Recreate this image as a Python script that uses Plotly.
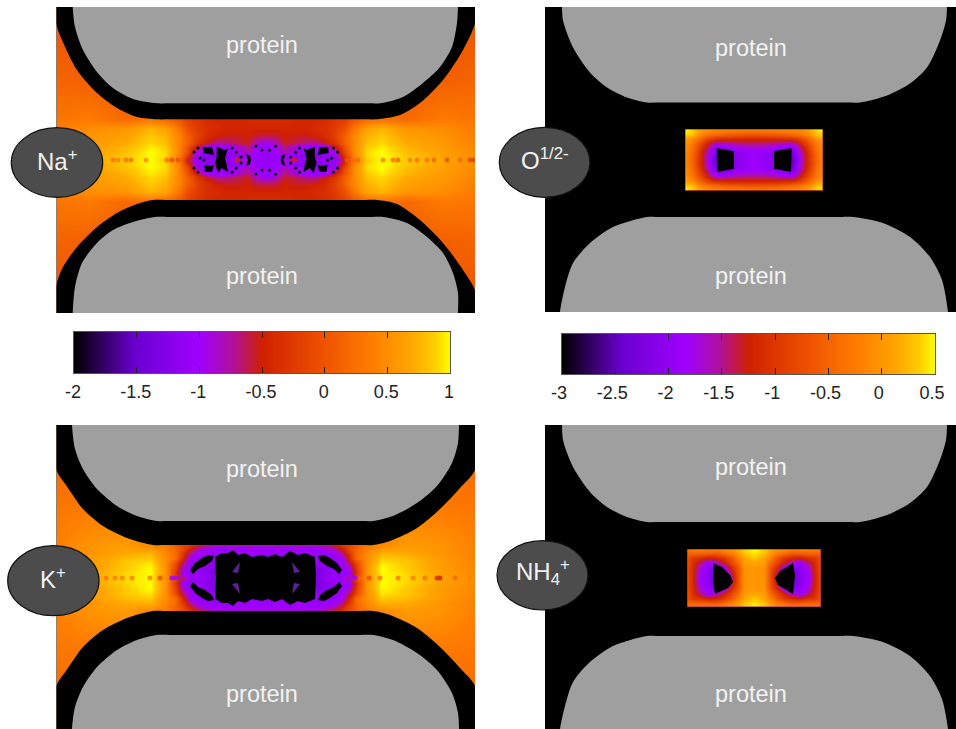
import plotly.graph_objects as go

W, H = 956, 729
CMAP = [[0, '#000000'], [.16, '#6a00d0'], [.33, '#a000ff'], [.42, '#b010a0'], [.5, '#d02000'],
        [.67, '#ef5500'], [.8, '#ff8000'], [.9, '#ffa800'], [.96, '#ffd000'], [1, '#ffff00']]
GRAY = '#9f9f9f'

# colour bar ticks
TICKS_A = [-2, -1.5, -1, -0.5, 0, 0.5, 1]
TICKS_B = [-3, -2.5, -2, -1.5, -1, -0.5, 0, 0.5]

# ---------- Na+ : one quadrant of the density map ----------
NA_X = [56, 90, 125, 150, 165, 178, 187, 197, 207, 217, 227, 237, 247, 257, 266]
NA_Y = [7, 40, 80, 119, 128, 136, 143, 146, 152, 156, 160]
NA_Z = [
    [.0, .0, .0, .0, .0, .0, .0, .0, .0, .0, .0, .0, .0, .0, .0],
    [.05, .05, .05, .05, .05, .05, .05, .05, .05, .05, .05, .05, .05, .05, .05],
    [.15, .1, .05, .05, .05, .05, .05, .05, .05, .05, .05, .05, .05, .05, .05],
    [.3, .35, .2, .3, .2, .0, -.2, -.3, -.4, -.45, -.45, -.45, -.4, -.4, -.4],
    [.35, .5, .55, .75, .65, .3, -.05, -.25, -.35, -.4, -.45, -.45, -.45, -.45, -.45],
    [.4, .55, .65, .85, .75, .45, .1, -.2, -.4, -.5, -.55, -.55, -.5, -.6, -.6],
    [.4, .6, .7, .9, .8, .45, .1, -.3, -.55, -.75, -.7, -.6, -.55, -.85, -1],
    [.45, .6, .75, .95, .85, .45, 0, -.55, -1.02, -1.05, -1.05, -.85, -.65, -1.05, -1.05],
    [.45, .65, .8, 1, .9, .45, -.1, -1, -1.1, -1.1, -1.1, -1, -.8, -1.05, -1.05],
    [.5, .65, .85, 1, .9, .4, -.3, -1.1, -1.2, -1.2, -1.2, -1.1, -1, -1.05, -1.1],
    [.5, .7, .85, 1, .85, .35, -.5, -1.1, -1.1, -1.2, -1.2, -.8, -.9, -1.1, -1.1],
]
NA_BEAD_X = [113, 118, 126, 131, 146, 167, 172, 178, 237, 294.5, 347, 353, 358, 383, 393, 398, 410, 417, 427, 434, 447, 460, 470, 474]
NA_BEAD_V = [.3, .4, .3, .25, .5, .3, 0, 0, -.5, -.5, 0, .2, .2, .4, .3, .2, .4, .3, .3, .2, 0, .2, -.1, -.2]
NA_BEAD_Y = [160] * len(NA_BEAD_X)
NA_SPECK_X = [194, 198, 194, 198, 232, 236, 232, 236, 256, 262, 256, 262, 241, 241, 200, 204]
NA_SPECK_Y = [152, 148, 168, 172, 148, 152, 172, 168, 146, 150, 174, 170, 157, 163, 158, 160]

# ---------- K+ ----------
K_X = [56, 90, 125, 150, 165, 175, 182, 190, 198, 206, 215, 225, 240, 266]
K_Y = [425, 465, 500, 545, 549, 553, 558, 563, 568, 573, 578]
K_Z = [
    [.2, .2, .2, .2, .2, .2, .2, .2, .2, .2, .2, .2, .2, .2],
    [.2, .25, .25, .25, .25, .25, .25, .25, .25, .25, .25, .25, .25, .25],
    [.3, .3, .3, .3, .3, .3, .3, .3, .3, .3, .3, .3, .3, .3],
    [.4, .55, .6, .45, .35, .1, -.1, -.3, -.55, -.7, -.85, -.85, -.85, -.85],
    [.4, .55, .65, .6, .4, .15, -.1, -.5, -.8, -.95, -1.05, -1.05, -1.05, -1.05],
    [.4, .55, .7, .75, .45, .2, -.25, -.75, -1.05, -1.1, -1.05, -1.05, -1.05, -1.05],
    [.4, .6, .8, .85, .5, .2, -.4, -1, -1.1, -1.1, -1.1, -1.1, -1.1, -1.1],
    [.45, .6, .85, .95, .5, -.1, -.65, -1.05, -1.1, -1.15, -1.15, -1.15, -1.15, -1.15],
    [.45, .6, .85, 1, .55, -.2, -.9, -1.1, -1.1, -1.2, -1.3, -1.25, -1.25, -1.25],
    [.45, .65, .9, 1, .55, -.3, -1.05, -1.1, -1.1, -1.2, -1.35, -1.3, -1.3, -1.3],
    [.5, .65, .9, 1, .5, 0, -.6, -1.1, -1.05, -1.1, -1.35, -1.3, -1.3, -1.3],
]
K_BEAD_X = [106, 115, 122, 132, 150, 160, 172, 176, 180, 347, 351, 355, 369, 380, 398, 413, 425, 437, 440, 455, 470]
K_BEAD_V = [.3, .4, .4, .4, .4, 0, -1, -1, -.8, -.8, -1, -1, 0, .3, .4, .4, .3, -.3, -.4, .2, .4]
K_BEAD_Y = [578] * len(K_BEAD_X)

# ---------- O 1/2- window ----------
O_X = [685, 692, 700, 708, 716, 725, 735, 745, 754]
O_Y = [129, 134, 139, 144, 150, 155, 160]
O_Z = [
    [.5, .4, .1, -.05, -.1, -.15, -.2, -.2, -.2],
    [.4, .3, -.1, -.3, -.4, -.5, -.55, -.6, -.6],
    [.1, -.1, -.5, -.9, -1.1, -1.15, -1.2, -1.2, -1.2],
    [0, -.3, -.8, -1.3, -1.75, -1.7, -1.55, -1.5, -1.5],
    [-.05, -.4, -1, -1.6, -2.2, -2.2, -2, -1.9, -1.85],
    [-.1, -.45, -1.1, -1.7, -2.4, -2.3, -2.1, -1.95, -1.85],
    [-.1, -.5, -1.1, -1.75, -2.5, -2.4, -2.1, -1.95, -1.85],
]

# ---------- NH4+ window ----------
N_X = [687, 693, 700, 708, 716, 724, 732, 738, 744, 754]
N_Y = [549, 553, 558, 563, 568, 573, 578]
N_Z = [
    [-.3, -.2, -.2, -.2, -.2, -.1, 0, .15, .35, .5],
    [-.5, -.5, -.5, -.55, -.6, -.4, -.2, .05, .3, .45],
    [-.7, -1, -1.1, -1.3, -1.2, -1, -.6, -.2, .1, .3],
    [-.7, -1.1, -1.5, -1.9, -1.7, -1.3, -.8, -.45, .05, .1],
    [-.75, -1.15, -1.7, -2, -2.2, -1.9, -1.1, -.65, -.05, 0],
    [-.75, -1.2, -1.8, -2.05, -2.4, -2.1, -1.3, -.7, -.05, 0],
    [-.75, -1.2, -1.85, -2.05, -2.4, -2.2, -1.5, -.7, -.05, 0],
]

# ---------- outlines ----------
NA_TOP_BAND = [(56, 23), (62, 40), (77, 70), (97, 93), (117, 108), (137, 117), (157, 119.3), (170, 119.3), (267, 119.3), (365, 119.3), (377, 119.3), (400, 115),
               (420, 103), (443, 80), (463, 50), (476, 20), (478, -30), (54, -30)]
NA_TOP_PROT = [(72.7, -10), (72.7, 7), (75, 27), (83, 50), (97, 72), (113, 88), (133, 99), (157, 103.3), (170, 103.3), (267, 103.3), (368, 103.3), (380, 103.3), (403, 97),
               (423, 83), (440, 67), (452, 47), (457, 23), (458, 7), (458, -10)]
NA_BOT_BAND = [(56, 287), (63, 267), (77, 247), (97, 227), (117, 213), (137, 204), (153, 200), (166, 200), (267, 200), (365, 200), (377, 200), (397, 204),
               (420, 220), (443, 243), (463, 270), (476, 293), (478, 350), (54, 350)]
NA_BOT_PROT = [(72.7, 330), (72.7, 313), (75, 287), (82, 263), (97, 243), (113, 230), (133, 222), (155, 217), (168, 217), (267, 217), (370, 217), (383, 217), (407, 223),
               (427, 237), (443, 253), (453, 273), (458, 293), (458, 313), (458, 330)]
K_BOT_BAND = [(56, 687), (66.7, 670), (83, 647), (103, 630), (127, 618), (153, 611), (166, 611), (267, 611), (360, 611), (373, 611), (390, 615), (417, 628),
              (440, 647), (460, 668), (476, 688), (478, 770), (54, 770)]
K_BOT_PROT = [(72, 745), (72, 729), (75, 707), (83, 687), (97, 667), (117, 650), (137, 640), (157, 635), (170, 635), (267, 635), (360, 635), (373, 635), (393, 640),
              (417, 653), (437, 670), (452, 693), (458, 713), (459, 729), (459, 745)]
K_TOP_BAND = [(56, 469), (66.7, 486), (83, 509), (103, 526), (127, 538), (153, 545), (166, 545), (267, 545), (360, 545), (373, 545), (390, 541), (417, 528),
              (440, 509), (460, 488), (476, 468), (478, 380), (54, 380)]
K_TOP_PROT = [(72, 405), (72, 425), (75, 449), (83, 469), (97, 489), (117, 506), (137, 516), (157, 521), (170, 521), (267, 521), (360, 521), (373, 521), (393, 516),
              (417, 503), (437, 486), (452, 463), (458, 443), (459, 425), (459, 405)]
O_TOP_PROT = [(562, -10), (562, 7), (563, 20.5), (573, 47.5), (590, 72.5), (607, 87.5), (627, 97.5), (647, 102.5), (660, 102.5), (755, 102.5), (847, 102.5), (860, 102.5),
              (887, 95.5), (910, 83.5), (927, 67.5), (940, 40.5), (946, 20.5), (947, 7), (947, -10)]
O_BOT_PROT = [(559, 330), (560, 312), (565, 287), (573, 263), (590, 243), (613, 227), (647, 217), (660, 217), (750, 217), (840, 217), (853, 217), (883, 223), (910, 237),
              (930, 257), (942, 280), (948, 312), (949, 330)]
N_TOP_PROT = [(562, 405), (562, 425), (563, 440), (573, 467), (590, 492), (607, 507), (627, 517), (647, 522), (660, 522), (755, 522), (847, 522), (860, 522), (887, 515),
              (910, 503), (927, 487), (940, 460), (946, 440), (947, 425), (947, 405)]
N_BOT_PROT = [(559, 745), (560, 729), (565, 706), (573, 682), (590, 662), (613, 646), (647, 636), (660, 636), (750, 636), (840, 636), (853, 636), (883, 642), (910, 656),
              (930, 676), (942, 699), (948, 729), (949, 745)]

# black (below scale) pockets
NA_VOIDS = [
    [(216.7, 146.7), (225, 150), (228, 148), (225, 158), (226.7, 165), (228, 172), (221.7, 168), (218, 173), (215, 163), (216.7, 157)],
    [(203, 147), (212, 147), (214, 155), (208, 154), (203, 153)],
    [(204, 165), (210, 166), (214, 165), (212, 172), (205, 172)],
    [(246, 154), (250, 156), (251, 160), (250, 164), (246, 166), (248, 160)],
]
K_VOIDS = [
    [(215, 557), (222, 553), (228, 553), (233, 550), (238, 555), (245, 553), (252, 557), (262, 555), (268, 557), (275, 554),
     (282, 557), (290, 551), (298, 555), (305, 553), (315, 557), (316, 578), (315, 599), (305, 603), (298, 601), (290, 605),
     (282, 599), (275, 602), (268, 599), (262, 601), (252, 599), (245, 603), (238, 601), (233, 606), (228, 603), (222, 603),
     (215, 599), (216, 578)],
    [(190, 570), (195, 563), (202, 558), (208, 555), (214, 556), (212, 561), (205, 566), (198, 569), (193, 574)],
    [(190, 586), (195, 593), (202, 598), (208, 601), (214, 600), (212, 595), (205, 590), (198, 587), (193, 582)],
    [(342, 570), (337, 563), (330, 558), (324, 555), (318, 556), (320, 561), (327, 566), (334, 569), (339, 574)],
    [(342, 586), (337, 593), (330, 598), (324, 601), (318, 600), (320, 595), (327, 590), (334, 587), (339, 582)],
]
K_PATCHES = [
    [(232, 572), (240, 562), (238, 573)], [(232, 584), (238, 583), (240, 594)],
    [(300, 572), (292, 562), (294, 573)], [(300, 584), (294, 583), (292, 594)],
]
O_VOIDS = [
    [(716.7, 148), (734, 151.3), (734, 168.7), (717.3, 172)],
    [(774, 151.3), (791.7, 148), (791, 172), (774, 168.7)],
]
N_VOIDS = [
    [(713, 563), (722, 567), (730, 575), (733, 582), (728, 588), (715, 594), (713, 583)],
    [(793, 563), (780, 571), (775, 578), (778, 585), (793, 594), (795, 576)],
]

# label boxes: x0, x1, y0, y1 of the ion ellipses; text
IONS = [('Na<sup>+</sup>', 11.3, 102.7, 127.7, 197.3), ('O<sup>1/2-</sup>', 499.3, 590, 127.3, 197.3),
        ('K<sup>+</sup>', 7.7, 99, 545.7, 615.7), ('NH<sub>4</sub><sup>+</sup>', 497, 588, 540.7, 610)]
PROTEIN_LABELS = [(262, 45), (262, 276), (751, 48), (751, 276), (262, 469), (262, 694), (751, 467), (751, 694)]


def mirrored(xs, ys, z, cx, cy):
    x = xs + [2 * cx - v for v in xs[-2::-1]]
    y = ys + [2 * cy - v for v in ys[-2::-1]]
    rows = [r + r[-2::-1] for r in z]
    return x, y, rows + rows[-2::-1]


fig = go.Figure()
layout = dict(width=W, height=H, margin=dict(l=0, r=0, t=0, b=0, autoexpand=False), paper_bgcolor='white', plot_bgcolor='black',
              showlegend=False, shapes=[], annotations=[], template='none')


def add_axes(n, box, xr=None, yr=None):
    x0, x1, y0, y1 = box
    common = dict(visible=False, fixedrange=True, automargin=False)
    s = '' if n == 1 else str(n)
    layout['xaxis' + s] = dict(domain=[x0 / W, x1 / W], range=xr or [x0, x1], anchor='y' + s, **common)
    layout['yaxis' + s] = dict(domain=[1 - y1 / H, 1 - y0 / H], range=yr or [y1, y0], anchor='x' + s, **common)
    return ('x' + s, 'y' + s)


def heat(ax, x, y, z, zmin, zmax):
    fig.add_trace(go.Heatmap(x=x, y=y, z=z, zmin=zmin, zmax=zmax, colorscale=CMAP, zsmooth='best', showscale=False,
                             hoverinfo='skip', xaxis=ax[0], yaxis=ax[1]))


def poly(ax, pts, color, smooth=False):
    xs = [p[0] for p in pts] + [pts[0][0]]
    ys = [p[1] for p in pts] + [pts[0][1]]
    line = dict(width=0, color=color)
    if smooth:
        line.update(shape='spline', smoothing=0.8)
    fig.add_trace(go.Scatter(x=xs, y=ys, mode='lines', fill='toself', fillcolor=color, line=line,
                             hoverinfo='skip', xaxis=ax[0], yaxis=ax[1]))


def beads(ax, x, y, v, zmin, zmax):
    fig.add_trace(go.Scatter(x=x, y=y, mode='markers', hoverinfo='skip', xaxis=ax[0], yaxis=ax[1],
                             marker=dict(size=5, color=v, colorscale=CMAP, cmin=zmin, cmax=zmax, opacity=.85,
                                         line=dict(width=0))))


# Na+
a = add_axes(1, (56.5, 475, 7, 313))
heat(a, *mirrored(NA_X, NA_Y, NA_Z, 265.75, 160), -2, 1)
beads(a, NA_BEAD_X, NA_BEAD_Y, NA_BEAD_V, -2, 1)
fig.add_trace(go.Scatter(x=NA_SPECK_X + [531.5 - v for v in NA_SPECK_X], y=NA_SPECK_Y + NA_SPECK_Y, mode='markers',
                         hoverinfo='skip', xaxis=a[0], yaxis=a[1], marker=dict(size=3, color='black', line=dict(width=0))))
for p in NA_VOIDS:
    poly(a, p, 'black')
    poly(a, [(531.5 - q[0], q[1]) for q in p], 'black')
poly(a, NA_TOP_BAND, 'black', True); poly(a, NA_BOT_BAND, 'black', True)
poly(a, NA_TOP_PROT, GRAY, True); poly(a, NA_BOT_PROT, GRAY, True)

# O
a = add_axes(2, (545, 956, 7, 312))
poly(a, O_TOP_PROT, GRAY, True); poly(a, O_BOT_PROT, GRAY, True)
b = add_axes(3, (685, 823, 129, 190.5))
heat(b, *mirrored(O_X, O_Y, O_Z, 754, 159.75), -3, .5)
for p in O_VOIDS:
    poly(b, p, 'black')
layout['shapes'].append(dict(type='rect', xref='x3', yref='y3', x0=685, x1=823, y0=129, y1=190.5,
                             line=dict(color='#b01040', width=1), layer='above'))

# K+
a = add_axes(4, (56.5, 475, 425, 729))
heat(a, *mirrored(K_X, K_Y, K_Z, 265.75, 578), -2, 1)
beads(a, K_BEAD_X, K_BEAD_Y, K_BEAD_V, -2, 1)
for p in K_VOIDS:
    poly(a, p, 'black')
for p in K_PATCHES:
    poly(a, p, '#5f2096')
poly(a, K_TOP_BAND, 'black', True); poly(a, K_BOT_BAND, 'black', True)
poly(a, K_TOP_PROT, GRAY, True); poly(a, K_BOT_PROT, GRAY, True)

# NH4+
a = add_axes(5, (545, 956, 425, 729))
poly(a, N_TOP_PROT, GRAY, True); poly(a, N_BOT_PROT, GRAY, True)
b = add_axes(6, (687, 821, 549, 607))
heat(b, *mirrored(N_X, N_Y, N_Z, 754, 578), -3, .5)
for p in N_VOIDS:
    poly(b, p, 'black')
layout['shapes'].append(dict(type='rect', xref='x6', yref='y6', x0=687, x1=821, y0=549, y1=607,
                             line=dict(color='#9010a0', width=1), layer='above'))


# colour bars
def colorbar(n, box, ticks, shift):
    x0, x1, y0, y1 = box
    s = str(n)
    fig.add_trace(go.Heatmap(x=ticks, y=[0, 1], z=[ticks, ticks], zmin=ticks[0], zmax=ticks[-1], colorscale=CMAP,
                             zsmooth='best', showscale=False, hoverinfo='skip', xaxis='x' + s, yaxis='y' + s))
    layout['xaxis' + s] = dict(domain=[x0 / W, x1 / W], range=[ticks[0], ticks[-1]], anchor='y' + s, tickvals=ticks,
                               ticktext=[str(t) for t in ticks], ticks='inside', ticklen=6, tickwidth=1.2, tickcolor='#222',
                               showline=True, mirror='ticks', linecolor='#555', linewidth=1, showgrid=False, zeroline=False,
                               ticklabelshift=shift, ticklabelstandoff=2,
                               automargin=False, tickfont=dict(family='Liberation Sans', size=18, color='#222'), fixedrange=True)
    layout['yaxis' + s] = dict(domain=[1 - y1 / H, 1 - y0 / H], range=[0, 1], anchor='x' + s, showticklabels=False,
                               ticks='', showline=True, mirror=True, linecolor='#555', linewidth=1, showgrid=False,
                               automargin=False, zeroline=False, fixedrange=True)


colorbar(7, (74, 450, 332, 373), TICKS_A, -1)
colorbar(8, (562, 935, 334, 374), TICKS_B, -3)

# ellipses and labels
for text, x0, x1, y0, y1 in IONS:
    layout['shapes'].append(dict(type='circle', xref='paper', yref='paper', x0=x0 / W, x1=x1 / W, y0=1 - y0 / H, y1=1 - y1 / H,
                                 fillcolor='#4c4c4c', line=dict(color='#111', width=1.2), layer='above'))
    layout['annotations'].append(dict(text=text, xref='paper', yref='paper', x=(x0 + x1) / 2 / W, y=1 - ((y0 + y1) / 2 - 3) / H,
                                      showarrow=False, xanchor='center', yanchor='middle',
                                      font=dict(family='Liberation Sans', size=24, color='#f2f2f2')))
for x, y in PROTEIN_LABELS:
    layout['annotations'].append(dict(text='protein', xref='paper', yref='paper', x=x / W, y=1 - y / H, showarrow=False,
                                      xanchor='center', yanchor='middle',
                                      font=dict(family='Liberation Sans', size=23.5, color='#f2f2f2')))

fig.update_layout(**layout)
fig.write_html('out.html', config=dict(displayModeBar=False),
               post_script="document.body.style.margin='0';document.documentElement.style.overflow='hidden';")
